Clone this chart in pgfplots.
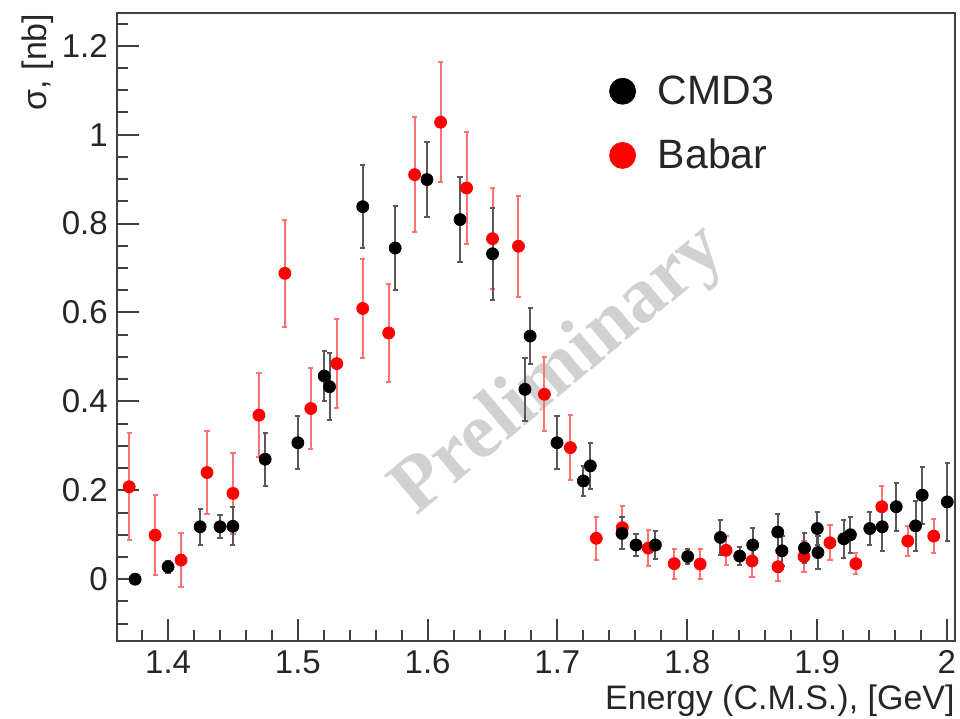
\documentclass[border=0pt]{standalone}
\usepackage{pgfplots}
\pgfplotsset{compat=1.18}
\usepackage{fontspec}
\setmainfont{Liberation Sans}
\newfontfamily\wmfont{Liberation Serif}

\begin{document}
\begin{tikzpicture}
\begin{axis}[
  set layers,
  scale only axis,
  width=419.15pt, height=313.85pt,
  xmin=1.3604, xmax=2.0064,
  ymin=-0.139, ymax=1.273,
  axis line style={black!75, line width=1pt},
  tick pos=left,
  tick align=inside,
  major tick length=11pt,
  minor tick length=5.5pt,
  every tick/.style={black!75, line width=1pt},
  xtick={1.4,1.5,1.6,1.7,1.8,1.9,2.0},
  xticklabels={1.4,1.5,1.6,1.7,1.8,1.9,2},
  minor xtick={1.36,1.38,...,2.0},
  ytick={0,0.2,0.4,0.6,0.8,1,1.2},
  yticklabels={0,0.2,0.4,0.6,0.8,1,1.2},
  minor ytick={-0.1,-0.05,...,1.26},
  tick label style={font=\fontsize{16.5}{19}\selectfont, black!85, inner sep=0pt},
  xticklabel shift=4.5pt,
  yticklabel shift=4.3pt,
  xlabel={Energy (C.M.S.), [GeV]},
  xlabel style={at={(rel axis cs:1,0)}, anchor=base east, yshift=-34pt, inner sep=0pt, font=\fontsize{17}{20}\selectfont, black!85},
  legend style={at={(rel axis cs:0.587,0.908)}, anchor=north west, draw=none, fill=none,
    font=\fontsize{20.5}{24}\selectfont, row sep=12pt, inner sep=0pt,
    nodes={inner sep=2pt, text=black!85}},
  legend cell align=left,
  clip=false,
]
\begin{pgfonlayer}{axis background}
\node[rotate=40, text=black!18, font=\wmfont\bfseries\fontsize{39.5}{44}\selectfont]
  at (axis cs:1.7022,0.467) {Preliminary};
\end{pgfonlayer}

\addlegendimage{legend image code/.code={\fill[black] (0pt,0pt) circle (6.5pt);}}
\addlegendentry{\hspace*{9pt}CMD3}
\addlegendimage{legend image code/.code={\fill[red] (0pt,0pt) circle (6.5pt);}}
\addlegendentry{\hspace*{9pt}Babar}

% Babar
\addplot[forget plot, only marks, mark=*, mark size=3pt, mark options={fill=red, draw=red},
  error bars/.cd, y dir=both, y explicit,
  error bar style={line width=1pt, red!55},
  error mark options={rotate=90, mark size=1.3pt, line width=1pt, red!55}]
table[x=x, y=y, y error=e] {
x y e
1.37 0.208 0.120
1.39 0.099 0.090
1.41 0.043 0.060
1.43 0.240 0.094
1.45 0.193 0.092
1.47 0.369 0.094
1.49 0.688 0.121
1.51 0.384 0.091
1.53 0.485 0.100
1.55 0.609 0.112
1.57 0.554 0.110
1.59 0.910 0.130
1.61 1.028 0.135
1.63 0.880 0.127
1.65 0.766 0.114
1.67 0.749 0.114
1.69 0.416 0.083
1.71 0.296 0.073
1.73 0.092 0.048
1.75 0.116 0.048
1.77 0.070 0.040
1.79 0.035 0.034
1.81 0.034 0.034
1.83 0.065 0.032
1.85 0.041 0.035
1.87 0.028 0.033
1.89 0.051 0.034
1.91 0.082 0.039
1.93 0.035 0.024
1.95 0.163 0.046
1.97 0.086 0.034
1.99 0.097 0.038
};

% CMD3
\addplot[forget plot, only marks, mark=*, mark size=3pt, mark options={fill=black, draw=black},
  error bars/.cd, y dir=both, y explicit,
  error bar style={line width=1pt, black!65},
  error mark options={rotate=90, mark size=1.3pt, line width=1pt, black!65}]
table[x=x, y=y, y error=e] {
x y e
1.3746 0.000 0.005
1.4000 0.028 0.014
1.4247 0.118 0.040
1.4400 0.118 0.026
1.4499 0.119 0.043
1.4748 0.270 0.060
1.5000 0.307 0.060
1.5203 0.457 0.057
1.5244 0.433 0.075
1.5500 0.838 0.094
1.5750 0.745 0.094
1.5995 0.899 0.084
1.6250 0.809 0.095
1.6500 0.732 0.103
1.6750 0.427 0.070
1.6790 0.547 0.064
1.6997 0.307 0.060
1.7200 0.221 0.034
1.7254 0.255 0.052
1.7498 0.103 0.036
1.7606 0.077 0.024
1.7755 0.077 0.032
1.8004 0.051 0.016
1.8256 0.094 0.040
1.8405 0.052 0.020
1.8505 0.077 0.039
1.8698 0.106 0.040
1.8731 0.064 0.034
1.8904 0.070 0.034
1.9003 0.114 0.038
1.9008 0.060 0.038
1.9207 0.091 0.043
1.9258 0.100 0.040
1.9407 0.114 0.038
1.9503 0.118 0.054
1.9611 0.163 0.054
1.9760 0.120 0.056
1.9811 0.189 0.064
2.0004 0.174 0.088
};

\coordinate (SW) at (rel axis cs:0,0);
\coordinate (NE) at (rel axis cs:1,1);
\coordinate (NW) at (rel axis cs:0,1);
\end{axis}
\node[rotate=90, anchor=base east, inner sep=0pt, font=\fontsize{17}{20}\selectfont, text=black!85]
  at ([xshift=-35pt]NW) {σ, [nb]};
\pgfresetboundingbox
\path ([xshift=-58.35pt, yshift=-38.5pt]SW) rectangle ([xshift=2.5pt, yshift=6.65pt]NE);
\end{tikzpicture}
\end{document}
